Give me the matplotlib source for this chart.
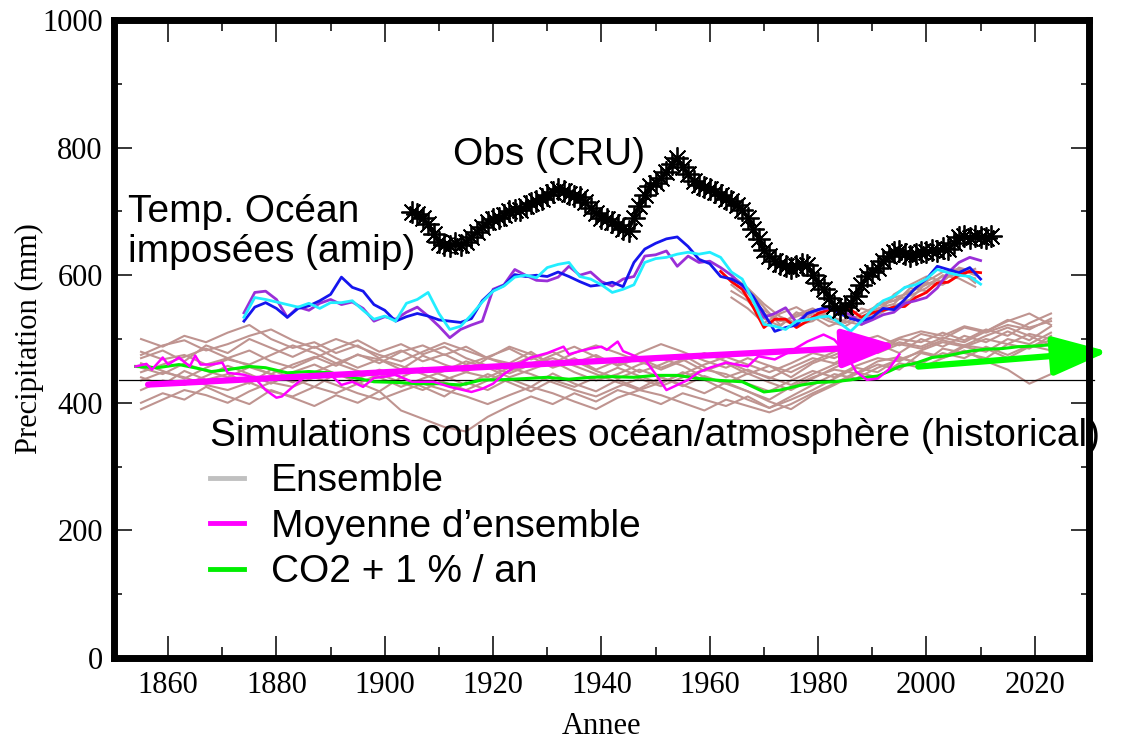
import matplotlib.pyplot as plt
import numpy as np
from matplotlib.lines import Line2D
from matplotlib.ticker import MultipleLocator

# --- historical coupled runs (ensemble members, every 4 years) ---
ens_years = np.arange(1855, 2024, 4)
ensemble = [
    [470, 482, 465, 490, 478, 500, 486, 472, 488, 470, 455, 468, 452, 474, 460, 448, 470, 462, 480, 458, 470, 452,
     466, 448, 460, 475, 456, 440, 452, 438, 455, 470, 462, 480, 492, 478, 500, 488, 505, 495, 512, 498, 520],
    [440, 428, 450, 436, 445, 430, 452, 438, 425, 446, 432, 418, 440, 425, 410, 432, 420, 438, 425, 446, 430, 418,
     436, 422, 440, 428, 415, 432, 418, 405, 425, 440, 452, 446, 465, 472, 460, 485, 478, 470, 492, 485, 505],
    [500, 488, 505, 495, 510, 522, 500, 486, 495, 478, 490, 470, 482, 465, 476, 460, 472, 485, 468, 480, 462, 475,
     458, 470, 455, 468, 450, 462, 445, 458, 440, 462, 475, 490, 482, 500, 495, 510, 498, 515, 505, 525, 540],
    [400, 415, 405, 425, 410, 398, 420, 408, 395, 412, 400, 418, 388, 375, 362, 355, 378, 395, 410, 398, 415, 402,
     420, 410, 398, 415, 405, 395, 410, 392, 405, 420, 438, 455, 448, 470, 462, 478, 470, 488, 475, 490, 482],
    [455, 445, 462, 450, 440, 456, 445, 460, 472, 458, 476, 462, 480, 490, 475, 488, 470, 458, 472, 455, 466, 450,
     438, 452, 440, 426, 442, 430, 418, 402, 390, 412, 428, 445, 460, 452, 478, 470, 488, 480, 500, 492, 510],
    [420, 435, 428, 442, 458, 445, 430, 448, 460, 445, 438, 452, 440, 455, 442, 428, 445, 432, 418, 436, 425, 440,
     455, 442, 430, 448, 436, 420, 405, 392, 410, 428, 445, 438, 455, 468, 480, 472, 490, 485, 470, 488, 498],
    [480, 468, 475, 460, 470, 482, 465, 455, 470, 485, 498, 480, 492, 476, 488, 470, 458, 446, 460, 475, 488, 472,
     460, 478, 492, 480, 466, 455, 470, 458, 448, 465, 480, 495, 505, 490, 508, 500, 518, 510, 522, 515, 532],
    [435, 448, 440, 428, 420, 432, 418, 410, 425, 415, 430, 445, 432, 420, 436, 448, 440, 455, 445, 432, 420, 410,
     425, 438, 426, 440, 452, 445, 430, 418, 435, 450, 440, 458, 470, 465, 482, 495, 488, 500, 492, 508, 500],
    [462, 450, 438, 455, 468, 460, 475, 490, 478, 462, 450, 440, 425, 438, 450, 465, 455, 440, 452, 465, 448, 435,
     445, 460, 470, 458, 440, 430, 446, 432, 420, 438, 455, 470, 482, 495, 488, 502, 495, 512, 530, 518, 528],
    [390, 405, 420, 412, 400, 418, 432, 425, 440, 428, 415, 405, 418, 430, 420, 410, 398, 412, 425, 415, 402, 390,
     408, 420, 412, 400, 388, 405, 395, 385, 398, 415, 430, 448, 440, 462, 455, 470, 482, 465, 452, 430, 445],
    [448, 460, 472, 485, 470, 458, 445, 432, 448, 462, 475, 468, 458, 445, 432, 420, 435, 450, 462, 470, 458, 445,
     432, 420, 432, 445, 460, 472, 460, 448, 462, 478, 470, 486, 478, 492, 485, 498, 490, 505, 518, 505, 490],
    [475, 490, 498, 482, 492, 505, 515, 498, 486, 500, 488, 475, 465, 480, 494, 482, 470, 488, 476, 462, 478, 490,
     478, 465, 452, 466, 478, 465, 450, 440, 428, 445, 460, 472, 488, 502, 512, 505, 520, 512, 528, 540, 522],
]

# ensemble mean
mean_years = [1854, 1856, 1857, 1859, 1860, 1862, 1864, 1865, 1866, 1868, 1870, 1871, 1874, 1876, 1878, 1880,
              1881, 1883, 1885, 1887, 1890, 1892, 1894, 1896, 1898, 1900, 1902, 1905, 1909, 1912, 1916, 1918,
              1920, 1922, 1925, 1927, 1930, 1933, 1934, 1936, 1938, 1940, 1941, 1943, 1944, 1946, 1948, 1950,
              1952, 1954, 1956, 1958, 1960, 1963, 1965, 1967, 1969, 1972, 1975, 1978, 1981, 1983, 1985, 1987,
              1989, 1991, 1993, 1995]
mean_vals = [457, 461, 452, 471, 460, 471, 457, 474, 460, 460, 463, 447, 444, 439, 420, 408,
             410, 425, 439, 441, 444, 428, 433, 425, 439, 441, 444, 433, 433, 425, 417, 422,
             430, 445, 462, 471, 478, 488, 476, 481, 485, 488, 483, 496, 481, 474, 468, 445,
             420, 428, 436, 448, 455, 463, 460, 457, 473, 468, 481, 496, 507, 499, 479, 449,
             436, 438, 452, 476]

# CO2 + 1 %/an run
co2_years = [1854, 1858, 1862, 1866, 1868, 1871, 1875, 1878, 1882, 1886, 1890, 1894, 1898, 1902, 1906, 1910,
             1914, 1918, 1921, 1926, 1930, 1934, 1938, 1942, 1946, 1950, 1954, 1958, 1962, 1966, 1970, 1973,
             1977, 1980, 1983, 1986, 1988, 1991, 1993, 1995, 1998, 2001, 2004, 2008, 2011, 2014, 2017, 2020, 2023]
co2_vals = [457, 455, 460, 453, 449, 452, 457, 455, 447, 449, 447, 440, 433, 432, 430, 430,
            428, 436, 436, 438, 440, 437, 440, 441, 440, 443, 443, 438, 435, 433, 417, 420,
            428, 432, 433, 436, 439, 442, 449, 457, 462, 471, 474, 481, 484, 485, 488, 489, 491]

# --- AMIP runs (prescribed SST), every 2 years ---
amip_years = np.arange(1874, 2011, 2)
amip_blue = [528, 550, 557, 548, 534, 548, 552, 560, 570, 597, 581, 575, 554, 545, 528, 535, 540, 536, 530, 528,
             526, 532, 560, 576, 584, 601, 598, 600, 598, 605, 598, 590, 583, 585, 589, 582, 620, 641, 650, 657,
             660, 645, 625, 618, 598, 594, 585, 567, 540, 512, 518, 522, 540, 546, 551, 540, 532, 528, 534, 548,
             546, 562, 580, 594, 614, 609, 604, 612, 594]
amip_purple = [541, 573, 575, 562, 534, 550, 545, 556, 562, 554, 558, 548, 528, 535, 531, 542, 550, 536, 520, 502,
               515, 522, 528, 578, 585, 609, 600, 592, 591, 597, 614, 600, 605, 590, 583, 594, 598, 630, 632, 638,
               614, 630, 620, 622, 612, 600, 583, 565, 534, 540, 549, 526, 540, 546, 548, 542, 539, 523, 530, 538,
               542, 556, 560, 565, 580, 604, 620, 628, 623]
amip_cyan = [534, 565, 562, 558, 554, 550, 556, 548, 557, 557, 560, 545, 531, 536, 528, 556, 562, 573, 540, 515,
             520, 538, 558, 575, 583, 597, 600, 596, 612, 617, 620, 598, 594, 585, 573, 578, 585, 620, 626, 628,
             633, 636, 633, 636, 628, 605, 594, 560, 523, 520, 515, 528, 530, 534, 536, 525, 512, 528, 546, 560,
             567, 581, 585, 594, 609, 604, 600, 598, 586]
red_years = np.arange(1962, 2011, 2)
amip_red = [606, 590, 578, 550, 518, 531, 531, 518, 528, 540, 546, 548, 546, 534, 541, 545, 550, 551, 565, 573,
            588, 589, 600, 606, 604]

# additional AMIP members, every 3 years
amip_ens_years = np.arange(1964, 2011, 3)
amip_ensemble = [
    [590, 572, 540, 528, 535, 545, 532, 525, 540, 552, 560, 575, 585, 598, 602, 595],
    [575, 560, 532, 520, 542, 530, 548, 538, 528, 545, 565, 572, 590, 605, 610, 600],
    [600, 580, 555, 535, 525, 540, 528, 520, 535, 548, 555, 580, 575, 592, 608, 588],
    [565, 548, 525, 540, 550, 535, 520, 530, 548, 540, 570, 585, 598, 590, 612, 605],
    [585, 565, 545, 530, 522, 528, 545, 540, 530, 555, 560, 568, 580, 600, 595, 582],
    [595, 578, 550, 522, 538, 548, 535, 528, 522, 538, 552, 562, 588, 585, 600, 610],
]

# --- observations (CRU), annual ---
obs_years = np.arange(1905, 2013)
obs_vals = [699, 696, 690, 680, 664, 652, 647, 646, 650, 648, 652, 660, 668, 676, 683, 688, 690, 694, 700, 703,
            702, 708, 713, 716, 720, 726, 730, 735, 732, 728, 724, 722, 715, 705, 697, 690, 688, 684, 678, 672,
            670, 690, 708, 725, 740, 745, 752, 762, 775, 783, 770, 758, 748, 742, 738, 735, 730, 726, 720, 716,
            710, 703, 690, 672, 657, 640, 630, 622, 617, 614, 612, 615, 618, 616, 600, 588, 578, 565, 552, 546,
            550, 556, 568, 585, 598, 605, 612, 622, 630, 636, 638, 633, 630, 634, 637, 636, 640, 638, 642, 641,
            650, 660, 662, 658, 662, 660, 658, 661]

ref_level = 435
mean_trend = ([1856.3, 1994.6], [428.6, 489.8])
co2_trend = ([1998.5, 2033.6], [456.8, 480.4])

brown = '#bf9490'
sans = 'Liberation Sans'
serif = 'Liberation Serif'

fig = plt.figure(figsize=(11.35, 7.39), dpi=100)
ax = fig.add_axes([0.1004, 0.1096, 0.859, 0.8633])

for member in ensemble:
    ax.plot(ens_years, member, color=brown, lw=1.5, zorder=2)
for member in amip_ensemble:
    ax.plot(amip_ens_years, member, color=brown, lw=1.5, zorder=2)

ax.plot([1851, 2031], [ref_level, ref_level], color='black', lw=0.9, zorder=3, clip_on=False)

ax.plot(co2_years, co2_vals, color='#00ee00', lw=2.2, zorder=4)
ax.plot(mean_years, mean_vals, color='#ff00ff', lw=1.8, zorder=4)

ax.plot(red_years, amip_red, color='#ff0000', lw=2.0, zorder=5)
ax.plot(amip_years, amip_purple, color='#9a2fd8', lw=2.0, zorder=5)
ax.plot(amip_years, amip_blue, color='#1515ee', lw=2.0, zorder=5)
ax.plot(amip_years, amip_cyan, color='#22eeff', lw=2.0, zorder=5)

ax.plot(obs_years, obs_vals, color='black', lw=2.5, marker=(8, 2, 0), markersize=16,
        markeredgewidth=1.3, zorder=6, clip_on=False)

# trend arrows
for (xs, ys), col in [(mean_trend, '#ff00ff'), (co2_trend, '#00ff00')]:
    ax.annotate('', xy=(xs[1], ys[1]), xytext=(xs[0], ys[0]), annotation_clip=False,
                arrowprops=dict(arrowstyle='-|>,head_length=34,head_width=12', mutation_scale=1,
                                color=col, lw=4.5, shrinkA=0, shrinkB=0),
                zorder=7)

ax.text(1912.6, 772, 'Obs (CRU)', family=sans, fontsize=28, va='baseline', zorder=8)
ax.text(1852.6, 684, 'Temp. Océan', family=sans, fontsize=28, va='baseline', zorder=8)
ax.text(1852.6, 620, 'imposées (amip)', family=sans, fontsize=28, va='baseline', zorder=8)

handles = [Line2D([], [], color='#c0c0c0', lw=3.5),
           Line2D([], [], color='#ff00ff', lw=3.5),
           Line2D([], [], color='#00ee00', lw=3.5)]
labels = ['Ensemble', 'Moyenne d\u2019ensemble', 'CO2 + 1 % / an']
leg = ax.legend(handles, labels, title='Simulations couplées océan/atmosphère (historical)',
                loc='upper left', bbox_to_anchor=(0.099, 0.376), frameon=False, alignment='left',
                prop={'family': sans, 'size': 28}, title_fontproperties={'family': sans, 'size': 28},
                handlelength=0.85, handletextpad=0.7, labelspacing=0.24, borderpad=0, borderaxespad=0)
leg.set_zorder(8)

ax.set_xlim(1850, 2030)
ax.set_ylim(0, 1000)
ax.xaxis.set_major_locator(MultipleLocator(20))
ax.xaxis.set_minor_locator(MultipleLocator(10))
ax.yaxis.set_major_locator(MultipleLocator(200))
ax.yaxis.set_minor_locator(MultipleLocator(100))
ax.tick_params(which='both', direction='in', top=True, right=True, width=1.1, colors='black')
ax.tick_params(axis='x', which='major', length=16, pad=9)
ax.tick_params(axis='x', which='minor', length=8)
ax.tick_params(axis='y', which='major', length=13, pad=8)
ax.tick_params(axis='y', which='minor', length=6)
for lab in ax.get_xticklabels() + ax.get_yticklabels():
    lab.set_family(serif)
    lab.set_fontsize(22)
for sp in ax.spines.values():
    sp.set_linewidth(5)
    sp.set_zorder(9)

ax.set_xlabel('Annee', family=serif, fontsize=22, labelpad=9)
ax.set_ylabel('Precipitation (mm)', family=serif, fontsize=22, labelpad=-1)

fig.savefig('out.png', dpi=100)
